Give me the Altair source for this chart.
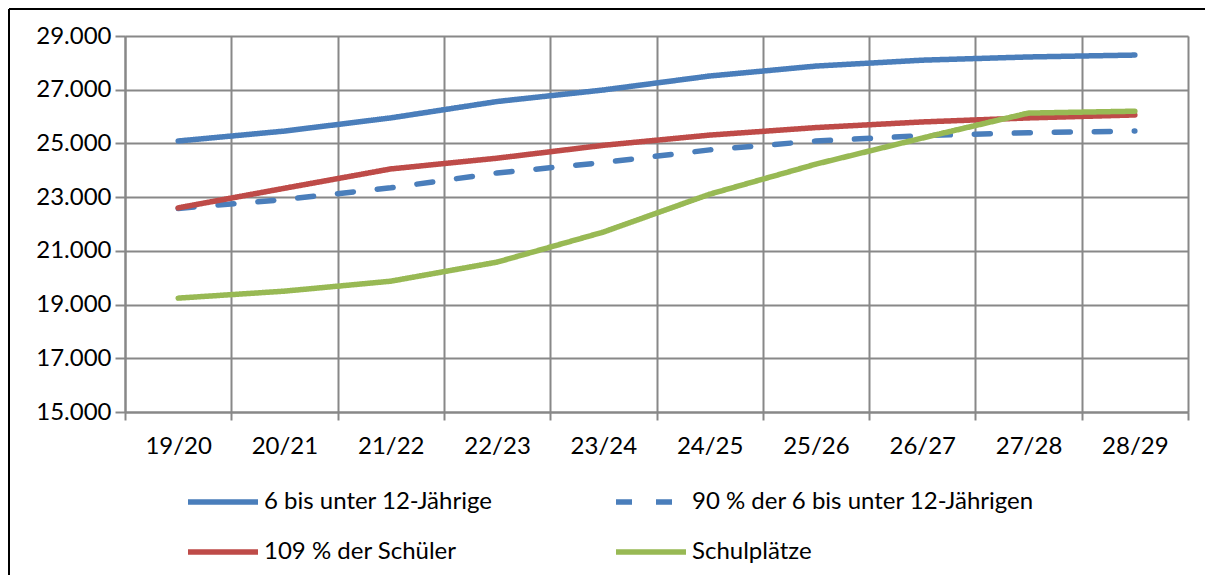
import altair as alt
import pandas as pd

seasons = ["19/20", "20/21", "21/22", "22/23", "23/24", "24/25", "25/26", "26/27", "27/28", "28/29"]
series_names = ["6 bis unter 12-Jährige", "90 % der 6 bis unter 12-Jährigen", "109 % der Schüler", "Schulplätze"]
kinder = [25090, 25460, 25950, 26560, 26990, 27510, 27880, 28100, 28220, 28290]
kinder90 = [22580, 22910, 23350, 23900, 24290, 24760, 25090, 25290, 25400, 25460]
schueler109 = [22600, 23330, 24050, 24450, 24930, 25310, 25590, 25800, 25950, 26060]
schulplaetze = [19240, 19500, 19870, 20580, 21700, 23110, 24230, 25200, 26130, 26200]
colors = ["#4A7EBB", "#4A7EBB", "#BE4B48", "#98B954"]
dashes = [[1, 0], [16, 24], [1, 0], [1, 0]]

rows = []
for name, vals in zip(series_names, [kinder, kinder90, schueler109, schulplaetze]):
    for s, v in zip(seasons, vals):
        rows.append({"Saison": s, "Reihe": name, "Wert": v})
df = pd.DataFrame(rows)

FONT = "Lato"
FS = 24

lines = alt.Chart(df).mark_line(strokeWidth=5.5, strokeCap="round", strokeJoin="round").encode(
    x=alt.X("Saison:N", sort=seasons, title=None,
            scale=alt.Scale(paddingInner=0, paddingOuter=0),
            axis=alt.Axis(tickBand="extent", grid=True, gridColor="#888888", gridWidth=2,
                          domainColor="#888888", domainWidth=2, tickColor="#888888", tickWidth=2,
                          tickSize=8, labelAngle=0, labelPadding=14, labelFont=FONT,
                          labelFontSize=FS, labelColor="black")),
    y=alt.Y("Wert:Q", title=None,
            scale=alt.Scale(domain=[15000, 29000], nice=False, zero=False),
            axis=alt.Axis(values=list(range(15000, 29001, 2000)), grid=True, gridColor="#888888",
                          gridWidth=2, domainColor="#888888", domainWidth=2, tickColor="#888888",
                          tickWidth=2, tickSize=10, labelPadding=4, labelFont=FONT, labelFontSize=FS,
                          labelColor="black",
                          labelExpr="replace(format(datum.value, ',d'), ',', '.')")),
    color=alt.Color("Reihe:N", sort=series_names,
                    scale=alt.Scale(domain=series_names, range=colors),
                    legend=alt.Legend(title=None, orient="none", legendX=60, legendY=428,
                                      direction="horizontal", columns=2, symbolType="stroke",
                                      symbolSize=4900, symbolStrokeWidth=5.5, labelFont=FONT,
                                      labelFontSize=FS, labelColor="black", labelOffset=3,
                                      labelLimit=0, columnPadding=112, rowPadding=-23, padding=0)),
    strokeDash=alt.StrokeDash("Reihe:N", sort=series_names,
                              scale=alt.Scale(domain=series_names, range=dashes)),
    order=alt.Order("Reihe:N"),
)

border = alt.Chart(pd.DataFrame({"a": [0]})).mark_rule(color="black", strokeWidth=2).encode(
    x=alt.value(-116), y=alt.value(-27), y2=alt.value(600))
border_top = alt.Chart(pd.DataFrame({"a": [0]})).mark_rule(color="black", strokeWidth=2).encode(
    x=alt.value(-116), x2=alt.value(1100), y=alt.value(-27))

chart = alt.layer(lines, border, border_top).properties(
    width=1063, height=376,
    autosize=alt.AutoSizeParams(type="none"),
    padding={"left": 117, "top": 28, "right": 17, "bottom": 163},
).configure_view(stroke=None).configure(background="white")

chart.save("out.html", embed_options={"renderer": "svg", "actions": False})
